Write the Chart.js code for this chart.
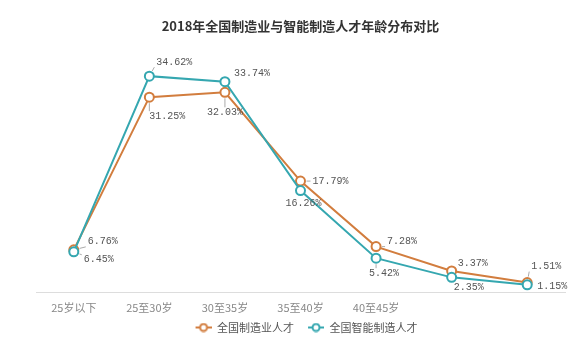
<!DOCTYPE html>
<html>
<head>
<meta charset="utf-8">
<title>人才年龄分布对比</title>
<script src="https://cdn.jsdelivr.net/npm/chart.js@4/dist/chart.umd.min.js"></script>
<style>
  html, body { margin: 0; padding: 0; background: #fff; }
  #wrap { width: 585px; height: 337px; }
</style>
</head>
<body>
<div id="wrap"><canvas id="ageChart"></canvas></div>
<script>
// Age buckets (the last two ticks carry no text)
const ageGroups = ['25岁以下', '25至30岁', '30至35岁', '35至40岁', '40至45岁', '', ''];
const manufacturing = [6.76, 31.25, 32.03, 17.79, 7.28, 3.37, 1.51];
const smartManufacturing = [6.45, 34.62, 33.74, 16.26, 5.42, 2.35, 1.15];
const seriesNames = ['全国制造业人才', '全国智能制造人才'];
const chartTitle = '2018年全国制造业与智能制造人才年龄分布对比';

const colors = ['#d27d3e', '#35a7b0'];

// label placement relative to each point: [dx, dy] of the label's left-middle
const labelOffsets = [
  [[14, -8], [0, 19], [-18, 20], [12, 0], [11, -5], [6, -8], [4, -16]],
  [[10, 8], [7, -14], [9, -8], [-15, 13], [-7, 15], [2, 10], [10, 2]]
];

// legend swatch: short line with a hollow dot, blank space on the left keeps items apart
function legendMark(color) {
  const c = document.createElement('canvas');
  c.width = 28;
  c.height = 10;
  const g = c.getContext('2d');
  g.strokeStyle = color;
  g.lineWidth = 2;
  g.beginPath();
  g.moveTo(12, 5);
  g.lineTo(28, 5);
  g.stroke();
  g.beginPath();
  g.arc(20, 5, 3.5, 0, Math.PI * 2);
  g.fillStyle = '#fff';
  g.fill();
  g.stroke();
  return c;
}
const legendMarks = colors.map(legendMark);

// percent labels with small leader lines
const valueLabels = {
  id: 'valueLabels',
  afterDatasetsDraw(chart) {
    const ctx = chart.ctx;
    ctx.save();
    ctx.font = '10px "Liberation Mono", monospace';
    ctx.textBaseline = 'middle';
    ctx.textAlign = 'left';
    chart.data.datasets.forEach((ds, di) => {
      const meta = chart.getDatasetMeta(di);
      meta.data.forEach((pt, i) => {
        const text = ds.data[i].toFixed(2) + '%';
        const [dx, dy] = labelOffsets[di][i];
        const lx = pt.x + dx;
        const ly = pt.y + dy;
        const w = ctx.measureText(text).width;
        const h = 10;
        // nearest spot on the label box
        const nx = Math.min(Math.max(pt.x, lx - 2), lx + w);
        const ny = Math.min(Math.max(pt.y, ly - h / 2), ly + h / 2);
        const dist = Math.hypot(nx - pt.x, ny - pt.y);
        if (dist > 8) {
          const ux = (nx - pt.x) / dist;
          const uy = (ny - pt.y) / dist;
          ctx.strokeStyle = '#aaa';
          ctx.lineWidth = 1;
          ctx.beginPath();
          ctx.moveTo(pt.x + ux * 6, pt.y + uy * 6);
          ctx.lineTo(nx, ny);
          ctx.stroke();
        }
        ctx.fillStyle = '#555';
        ctx.fillText(text, lx, ly);
      });
    });
    ctx.restore();
  }
};

Chart.defaults.font.family = '"Noto Sans CJK SC", "Noto Sans", sans-serif';

const chart = new Chart(document.getElementById('ageChart'), {
  type: 'line',
  data: {
    labels: ageGroups,
    datasets: [
      {
        label: seriesNames[0],
        data: manufacturing,
        borderColor: colors[0],
        backgroundColor: '#fff',
        borderWidth: 2,
        pointRadius: 4.5,
        pointBorderWidth: 2,
        order: 1
      },
      {
        label: seriesNames[1],
        data: smartManufacturing,
        borderColor: colors[1],
        backgroundColor: '#fff',
        borderWidth: 2,
        pointRadius: 4.5,
        pointBorderWidth: 2,
        order: 0
      }
    ]
  },
  options: {
    responsive: true,
    maintainAspectRatio: false,
    animation: false,
    layout: { padding: { top: 10, left: 36, right: 20, bottom: -6 } },
    plugins: {
      title: {
        display: true,
        text: chartTitle,
        color: '#333',
        font: { size: 13, weight: 'bold' },
        padding: { top: 8, bottom: 9 }
      },
      legend: {
        position: 'bottom',
        labels: {
          usePointStyle: true,
          pointStyleWidth: 28,
          color: '#555',
          font: { size: 11 },
          padding: 2,
          sort: (a, b) => a.datasetIndex - b.datasetIndex,
          generateLabels(c) {
            const items = Chart.defaults.plugins.legend.labels.generateLabels(c);
            items.forEach(it => { it.pointStyle = legendMarks[it.datasetIndex]; });
            return items;
          }
        }
      },
      tooltip: { enabled: false }
    },
    scales: {
      x: {
        offset: true,
        grid: { display: false },
        border: { color: '#ddd' },
        ticks: { color: '#888', font: { size: 11 }, padding: 1 },
        afterFit(scale) { scale.height = 28; }
      },
      y: {
        display: false,
        min: 0,
        max: 40
      }
    }
  },
  plugins: [valueLabels]
});
</script>
</body>
</html>
